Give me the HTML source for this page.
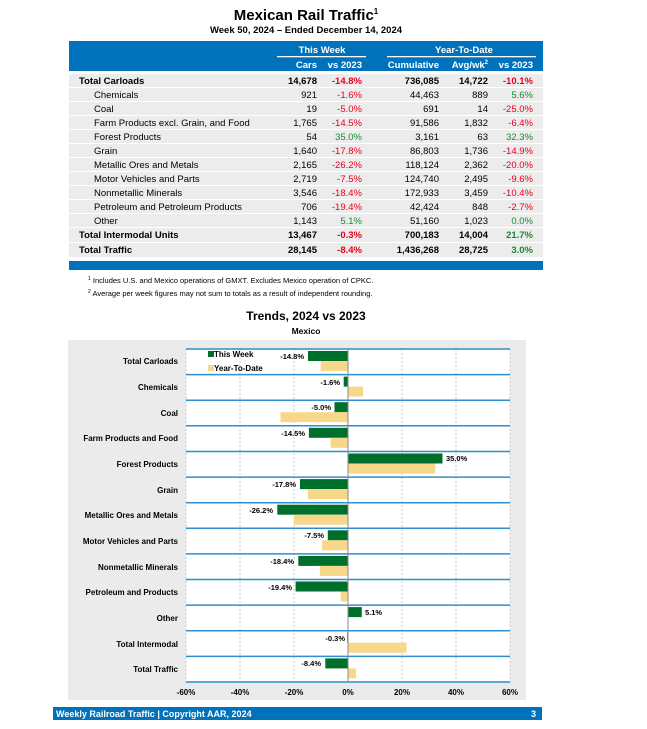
<!DOCTYPE html>
<html><head><meta charset="utf-8"><style>
body{margin:0;background:#fff;}
svg{display:block;font-family:"Liberation Sans",Arial,sans-serif;}
.b{font-weight:bold}
</style></head><body>
<svg width="647" height="729" viewBox="0 0 647 729" xmlns="http://www.w3.org/2000/svg">
<text x="306" y="20" text-anchor="middle" font-size="15" class="b">Mexican Rail Traffic<tspan font-size="8" dy="-6">1</tspan></text>
<text x="306" y="33" text-anchor="middle" font-size="9.5" class="b">Week 50, 2024 – Ended December 14, 2024</text>
<rect x="69" y="41" width="474" height="30" fill="#0072bc"/>
<g fill="#fff" font-size="9.5" class="b">
<text x="322" y="53" text-anchor="middle">This Week</text>
<text x="464" y="53" text-anchor="middle">Year-To-Date</text>
<rect x="277" y="56" width="89" height="1.3"/>
<rect x="387" y="56" width="149" height="1.3"/>
<text x="317" y="68" text-anchor="end">Cars</text>
<text x="362" y="68" text-anchor="end">vs 2023</text>
<text x="439" y="68" text-anchor="end">Cumulative</text>
<text x="488" y="68" text-anchor="end">Avg/wk<tspan font-size="6" dy="-4">2</tspan></text>
<text x="533" y="68" text-anchor="end" dy="0">vs 2023</text>
</g>
<g fill="#ececec">
<rect x="69" y="74" width="474" height="13"/><rect x="69" y="88" width="474" height="13"/><rect x="69" y="102" width="474" height="13"/><rect x="69" y="116" width="474" height="13"/><rect x="69" y="130" width="474" height="13"/><rect x="69" y="144" width="474" height="13"/><rect x="69" y="158" width="474" height="13"/><rect x="69" y="172" width="474" height="13"/><rect x="69" y="186" width="474" height="13"/><rect x="69" y="200" width="474" height="13"/><rect x="69" y="214" width="474" height="13"/><rect x="69" y="228" width="474" height="14"/><rect x="69" y="243" width="474" height="14"/>
</g>
<g font-size="9.5">
<g class="b"><text x="79" y="84">Total Carloads</text><text x="317" y="84" text-anchor="end">14,678</text><text x="362" y="84" text-anchor="end" fill="#e8001c">-14.8%</text><text x="439" y="84" text-anchor="end">736,085</text><text x="488" y="84" text-anchor="end">14,722</text><text x="533" y="84" text-anchor="end" fill="#e8001c">-10.1%</text></g>
<text x="94" y="98">Chemicals</text><text x="317" y="98" text-anchor="end">921</text><text x="362" y="98" text-anchor="end" fill="#e8001c">-1.6%</text><text x="439" y="98" text-anchor="end">44,463</text><text x="488" y="98" text-anchor="end">889</text><text x="533" y="98" text-anchor="end" fill="#1a8a2e">5.6%</text>
<text x="94" y="112">Coal</text><text x="317" y="112" text-anchor="end">19</text><text x="362" y="112" text-anchor="end" fill="#e8001c">-5.0%</text><text x="439" y="112" text-anchor="end">691</text><text x="488" y="112" text-anchor="end">14</text><text x="533" y="112" text-anchor="end" fill="#e8001c">-25.0%</text>
<text x="94" y="126">Farm Products excl. Grain, and Food</text><text x="317" y="126" text-anchor="end">1,765</text><text x="362" y="126" text-anchor="end" fill="#e8001c">-14.5%</text><text x="439" y="126" text-anchor="end">91,586</text><text x="488" y="126" text-anchor="end">1,832</text><text x="533" y="126" text-anchor="end" fill="#e8001c">-6.4%</text>
<text x="94" y="140">Forest Products</text><text x="317" y="140" text-anchor="end">54</text><text x="362" y="140" text-anchor="end" fill="#1a8a2e">35.0%</text><text x="439" y="140" text-anchor="end">3,161</text><text x="488" y="140" text-anchor="end">63</text><text x="533" y="140" text-anchor="end" fill="#1a8a2e">32.3%</text>
<text x="94" y="154">Grain</text><text x="317" y="154" text-anchor="end">1,640</text><text x="362" y="154" text-anchor="end" fill="#e8001c">-17.8%</text><text x="439" y="154" text-anchor="end">86,803</text><text x="488" y="154" text-anchor="end">1,736</text><text x="533" y="154" text-anchor="end" fill="#e8001c">-14.9%</text>
<text x="94" y="168">Metallic Ores and Metals</text><text x="317" y="168" text-anchor="end">2,165</text><text x="362" y="168" text-anchor="end" fill="#e8001c">-26.2%</text><text x="439" y="168" text-anchor="end">118,124</text><text x="488" y="168" text-anchor="end">2,362</text><text x="533" y="168" text-anchor="end" fill="#e8001c">-20.0%</text>
<text x="94" y="182">Motor Vehicles and Parts</text><text x="317" y="182" text-anchor="end">2,719</text><text x="362" y="182" text-anchor="end" fill="#e8001c">-7.5%</text><text x="439" y="182" text-anchor="end">124,740</text><text x="488" y="182" text-anchor="end">2,495</text><text x="533" y="182" text-anchor="end" fill="#e8001c">-9.6%</text>
<text x="94" y="196">Nonmetallic Minerals</text><text x="317" y="196" text-anchor="end">3,546</text><text x="362" y="196" text-anchor="end" fill="#e8001c">-18.4%</text><text x="439" y="196" text-anchor="end">172,933</text><text x="488" y="196" text-anchor="end">3,459</text><text x="533" y="196" text-anchor="end" fill="#e8001c">-10.4%</text>
<text x="94" y="210">Petroleum and Petroleum Products</text><text x="317" y="210" text-anchor="end">706</text><text x="362" y="210" text-anchor="end" fill="#e8001c">-19.4%</text><text x="439" y="210" text-anchor="end">42,424</text><text x="488" y="210" text-anchor="end">848</text><text x="533" y="210" text-anchor="end" fill="#e8001c">-2.7%</text>
<text x="94" y="224">Other</text><text x="317" y="224" text-anchor="end">1,143</text><text x="362" y="224" text-anchor="end" fill="#1a8a2e">5.1%</text><text x="439" y="224" text-anchor="end">51,160</text><text x="488" y="224" text-anchor="end">1,023</text><text x="533" y="224" text-anchor="end" fill="#1a8a2e">0.0%</text>
<g class="b"><text x="79" y="238">Total Intermodal Units</text><text x="317" y="238" text-anchor="end">13,467</text><text x="362" y="238" text-anchor="end" fill="#e8001c">-0.3%</text><text x="439" y="238" text-anchor="end">700,183</text><text x="488" y="238" text-anchor="end">14,004</text><text x="533" y="238" text-anchor="end" fill="#1a8a2e">21.7%</text></g>
<g class="b"><text x="79" y="253">Total Traffic</text><text x="317" y="253" text-anchor="end">28,145</text><text x="362" y="253" text-anchor="end" fill="#e8001c">-8.4%</text><text x="439" y="253" text-anchor="end">1,436,268</text><text x="488" y="253" text-anchor="end">28,725</text><text x="533" y="253" text-anchor="end" fill="#1a8a2e">3.0%</text></g>
</g>
<rect x="69" y="261" width="474" height="9" fill="#0072bc"/>
<text x="88" y="283" font-size="7.5"><tspan font-size="5" dy="-3">1</tspan><tspan dy="3"> Includes U.S. and Mexico operations of GMXT. Excludes Mexico operation of CPKC.</tspan></text>
<text x="88" y="296" font-size="7.5"><tspan font-size="5" dy="-3">2</tspan><tspan dy="3"> Average per week figures may not sum to totals as a result of independent rounding.</tspan></text>
<text x="306" y="320" text-anchor="middle" font-size="12" class="b">Trends, 2024 vs 2023</text>
<text x="306" y="334" text-anchor="middle" font-size="8.5" class="b">Mexico</text>
<rect x="68" y="340" width="458" height="360" fill="#ebebeb"/>
<rect x="186" y="349" width="324" height="333" fill="#fff"/>
<g stroke="#bbb" stroke-dasharray="2,2" stroke-width="0.8">
<line x1="186" y1="349" x2="186" y2="682"/><line x1="240" y1="349" x2="240" y2="682"/><line x1="294" y1="349" x2="294" y2="682"/><line x1="402" y1="349" x2="402" y2="682"/><line x1="456" y1="349" x2="456" y2="682"/><line x1="510" y1="349" x2="510" y2="682"/>
</g>
<g stroke="#2d8fd0" stroke-width="1.5">
<line x1="186" y1="349" x2="510" y2="349"/><line x1="186" y1="374.6" x2="510" y2="374.6"/><line x1="186" y1="400.2" x2="510" y2="400.2"/><line x1="186" y1="425.8" x2="510" y2="425.8"/><line x1="186" y1="451.5" x2="510" y2="451.5"/><line x1="186" y1="477.1" x2="510" y2="477.1"/><line x1="186" y1="502.7" x2="510" y2="502.7"/><line x1="186" y1="528.3" x2="510" y2="528.3"/><line x1="186" y1="553.9" x2="510" y2="553.9"/><line x1="186" y1="579.5" x2="510" y2="579.5"/><line x1="186" y1="605.1" x2="510" y2="605.1"/><line x1="186" y1="630.7" x2="510" y2="630.7"/><line x1="186" y1="656.4" x2="510" y2="656.4"/><line x1="186" y1="682" x2="510" y2="682"/>
</g>
<!-- bars: zero 348, 2.7px/% -->
<g fill="#006f2c">
<rect x="308" y="351" width="40" height="10"/>
<rect x="343.7" y="376.6" width="4.3" height="10"/>
<rect x="334.5" y="402.2" width="13.5" height="10"/>
<rect x="308.9" y="427.8" width="39.1" height="10"/>
<rect x="348" y="453.5" width="94.5" height="10"/>
<rect x="300" y="479.1" width="48" height="10"/>
<rect x="277.3" y="504.7" width="70.7" height="10"/>
<rect x="327.8" y="530.3" width="20.2" height="10"/>
<rect x="298.3" y="555.9" width="49.7" height="10"/>
<rect x="295.6" y="581.5" width="52.4" height="10"/>
<rect x="348" y="607.1" width="13.8" height="10"/>
<rect x="347.2" y="632.7" width="0.8" height="10"/>
<rect x="325.3" y="658.4" width="22.7" height="10"/>
</g>
<g fill="#f7d88a">
<rect x="320.7" y="361" width="27.3" height="10"/>
<rect x="348" y="386.6" width="15.1" height="10"/>
<rect x="280.5" y="412.2" width="67.5" height="10"/>
<rect x="330.7" y="437.8" width="17.3" height="10"/>
<rect x="348" y="463.5" width="87.2" height="10"/>
<rect x="307.8" y="489.1" width="40.2" height="10"/>
<rect x="294" y="514.7" width="54" height="10"/>
<rect x="322.1" y="540.3" width="25.9" height="10"/>
<rect x="319.9" y="565.9" width="28.1" height="10"/>
<rect x="340.7" y="591.5" width="7.3" height="10"/>
<rect x="348" y="642.7" width="58.6" height="10"/>
<rect x="348" y="668.4" width="8.1" height="10"/>
</g>
<line x1="348" y1="349" x2="348" y2="682" stroke="#888" stroke-width="1"/>
<g font-size="7.5" class="b">
<text x="304" y="359" text-anchor="end">-14.8%</text>
<text x="340" y="385" text-anchor="end">-1.6%</text>
<text x="331" y="410" text-anchor="end">-5.0%</text>
<text x="305" y="436" text-anchor="end">-14.5%</text>
<text x="446" y="461">35.0%</text>
<text x="296" y="487" text-anchor="end">-17.8%</text>
<text x="273" y="513" text-anchor="end">-26.2%</text>
<text x="324" y="538" text-anchor="end">-7.5%</text>
<text x="294" y="564" text-anchor="end">-18.4%</text>
<text x="292" y="590" text-anchor="end">-19.4%</text>
<text x="365" y="615">5.1%</text>
<text x="345" y="641" text-anchor="end">-0.3%</text>
<text x="321" y="666" text-anchor="end">-8.4%</text>
</g>
<rect x="208" y="351" width="6" height="6" fill="#006f2c"/><text x="214" y="357" font-size="8" class="b">This Week</text>
<rect x="208" y="365" width="6" height="6" fill="#f7d88a"/><text x="214" y="371" font-size="8" class="b">Year-To-Date</text>
<g font-size="8" class="b" text-anchor="end">
<text x="178" y="364">Total Carloads</text>
<text x="178" y="390">Chemicals</text>
<text x="178" y="416">Coal</text>
<text x="178" y="441">Farm Products and Food</text>
<text x="178" y="467">Forest Products</text>
<text x="178" y="493">Grain</text>
<text x="178" y="518">Metallic Ores and Metals</text>
<text x="178" y="544">Motor Vehicles and Parts</text>
<text x="178" y="570">Nonmetallic Minerals</text>
<text x="178" y="595">Petroleum and Products</text>
<text x="178" y="621">Other</text>
<text x="178" y="647">Total Intermodal</text>
<text x="178" y="672">Total Traffic</text>
</g>
<g font-size="8" class="b" text-anchor="middle">
<text x="186" y="695">-60%</text><text x="240" y="695">-40%</text><text x="294" y="695">-20%</text><text x="348" y="695">0%</text><text x="402" y="695">20%</text><text x="456" y="695">40%</text><text x="510" y="695">60%</text>
</g>
<rect x="53" y="707" width="489" height="13" fill="#0072bc"/>
<text x="56" y="717" font-size="9" class="b" fill="#fff">Weekly Railroad Traffic | Copyright AAR, 2024</text>
<text x="536" y="717" font-size="9" class="b" fill="#fff" text-anchor="end">3</text>
</svg>
</body></html>
